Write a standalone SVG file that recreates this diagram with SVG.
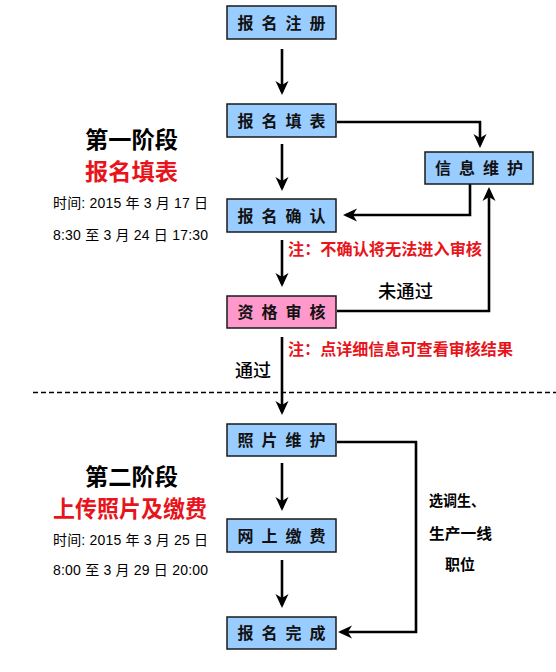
<svg xmlns="http://www.w3.org/2000/svg" width="556" height="672" viewBox="0 0 556 672">
<defs>
<style>
.box{fill:#99CCFF;stroke:#1a1a1a;stroke-width:1.5}
.pink{fill:#FF99CC;stroke:#1a1a1a;stroke-width:1.5}
.bt{font-family:"Noto Sans CJK SC","Liberation Sans",sans-serif;font-weight:bold;font-size:16px;letter-spacing:8px;text-anchor:middle;fill:#111}
.con{fill:none;stroke:#000;stroke-width:2.6;stroke-linejoin:miter}
.red{font-family:"Noto Sans CJK SC",sans-serif;font-weight:bold;font-size:16px;fill:#E8141B}
.lab{font-family:"Noto Sans CJK SC",sans-serif;font-weight:500;font-size:18px;fill:#000}
.lab2{font-family:"Noto Sans CJK SC",sans-serif;font-weight:bold;font-size:15px;fill:#000}
.ttl{font-family:"Noto Sans CJK SC",sans-serif;font-weight:bold;font-size:23px;fill:#000}
.ttlr{font-family:"Noto Sans CJK SC",sans-serif;font-weight:bold;font-size:23px;fill:#E8141B}
.time{font-family:"Liberation Sans","Noto Sans CJK SC",sans-serif;font-size:14px;fill:#000}
</style>
<marker id="ah" markerUnits="userSpaceOnUse" markerWidth="16" markerHeight="14" refX="11" refY="7" orient="auto">
<path d="M0,0.5 L14,7 L0,13.5 L4,7 z" fill="#000"/>
</marker>
</defs>

<line x1="33" y1="392.5" x2="556" y2="392.5" stroke="#000" stroke-width="1.3" stroke-dasharray="5,3"/>

<g id="connectors">
<path class="con" d="M282,49 V92" marker-end="url(#ah)"/>
<path class="con" d="M282,144 V188" marker-end="url(#ah)"/>
<path class="con" d="M337,122 H480 V145" marker-end="url(#ah)"/>
<path class="con" d="M470,184 V215 H346" marker-end="url(#ah)"/>
<path class="con" d="M282,240 V284" marker-end="url(#ah)"/>
<path class="con" d="M337,311 H489 V190" marker-end="url(#ah)"/>
<path class="con" d="M282,337 V412" marker-end="url(#ah)"/>
<path class="con" d="M282,463 V508" marker-end="url(#ah)"/>
<path class="con" d="M282,560 V605" marker-end="url(#ah)"/>
<path class="con" d="M337,442 H416 V632 H341" marker-end="url(#ah)"/>
</g>

<g id="n-zhuce"><rect class="box" x="227" y="6" width="109" height="33"/><text class="bt" x="285.5" y="29">报名注册</text></g>
<g id="n-tianbiao"><rect class="box" x="227" y="104" width="109" height="33"/><text class="bt" x="285.5" y="127">报名填表</text></g>
<g id="n-xinxi"><rect class="box" x="425" y="152" width="108" height="32"/><text class="bt" x="483" y="174">信息维护</text></g>
<g id="n-queren"><rect class="box" x="227" y="199" width="109" height="33"/><text class="bt" x="285.5" y="222">报名确认</text></g>
<g id="n-shenhe"><rect class="pink" x="227" y="296" width="109" height="32"/><text class="bt" x="285.5" y="318">资格审核</text></g>
<g id="n-zhaopian"><rect class="box" x="227" y="424" width="109" height="32"/><text class="bt" x="285.5" y="446">照片维护</text></g>
<g id="n-jiaofei"><rect class="box" x="227" y="519" width="109" height="33"/><text class="bt" x="285.5" y="542">网上缴费</text></g>
<g id="n-wancheng"><rect class="box" x="227" y="617" width="109" height="32"/><text class="bt" x="285.5" y="639">报名完成</text></g>

<g id="labels">
<text class="red" x="288" y="255" textLength="194" lengthAdjust="spacingAndGlyphs">注：不确认将无法进入审核</text>
<text class="lab" x="378" y="298" textLength="55" lengthAdjust="spacingAndGlyphs">未通过</text>
<text class="red" x="288" y="355" textLength="225" lengthAdjust="spacingAndGlyphs">注：点详细信息可查看审核结果</text>
<text class="lab" x="235" y="377" textLength="36" lengthAdjust="spacingAndGlyphs">通过</text>
<text class="lab2" x="429" y="506" textLength="56" lengthAdjust="spacingAndGlyphs">选调生、</text>
<text class="lab2" x="429" y="539" textLength="63" lengthAdjust="spacingAndGlyphs">生产一线</text>
<text class="lab2" x="445" y="570" textLength="30" lengthAdjust="spacingAndGlyphs">职位</text>
</g>

<g id="stage1">
<text class="ttl" x="85" y="148" textLength="93" lengthAdjust="spacingAndGlyphs">第一阶段</text>
<text class="ttlr" x="85" y="180" textLength="93" lengthAdjust="spacingAndGlyphs">报名填表</text>
<text class="time" x="53" y="208" textLength="155" lengthAdjust="spacing">时间: 2015 年 3 月 17 日</text>
<text class="time" x="53" y="240" textLength="155" lengthAdjust="spacing">8:30 至 3 月 24 日 17:30</text>
</g>

<g id="stage2">
<text class="ttl" x="85" y="485" textLength="93" lengthAdjust="spacingAndGlyphs">第二阶段</text>
<text class="ttlr" x="53" y="517" font-size="22" textLength="154" lengthAdjust="spacingAndGlyphs">上传照片及缴费</text>
<text class="time" x="53" y="545" textLength="155" lengthAdjust="spacing">时间: 2015 年 3 月 25 日</text>
<text class="time" x="53" y="575" textLength="155" lengthAdjust="spacing">8:00 至 3 月 29 日 20:00</text>
</g>
</svg>
